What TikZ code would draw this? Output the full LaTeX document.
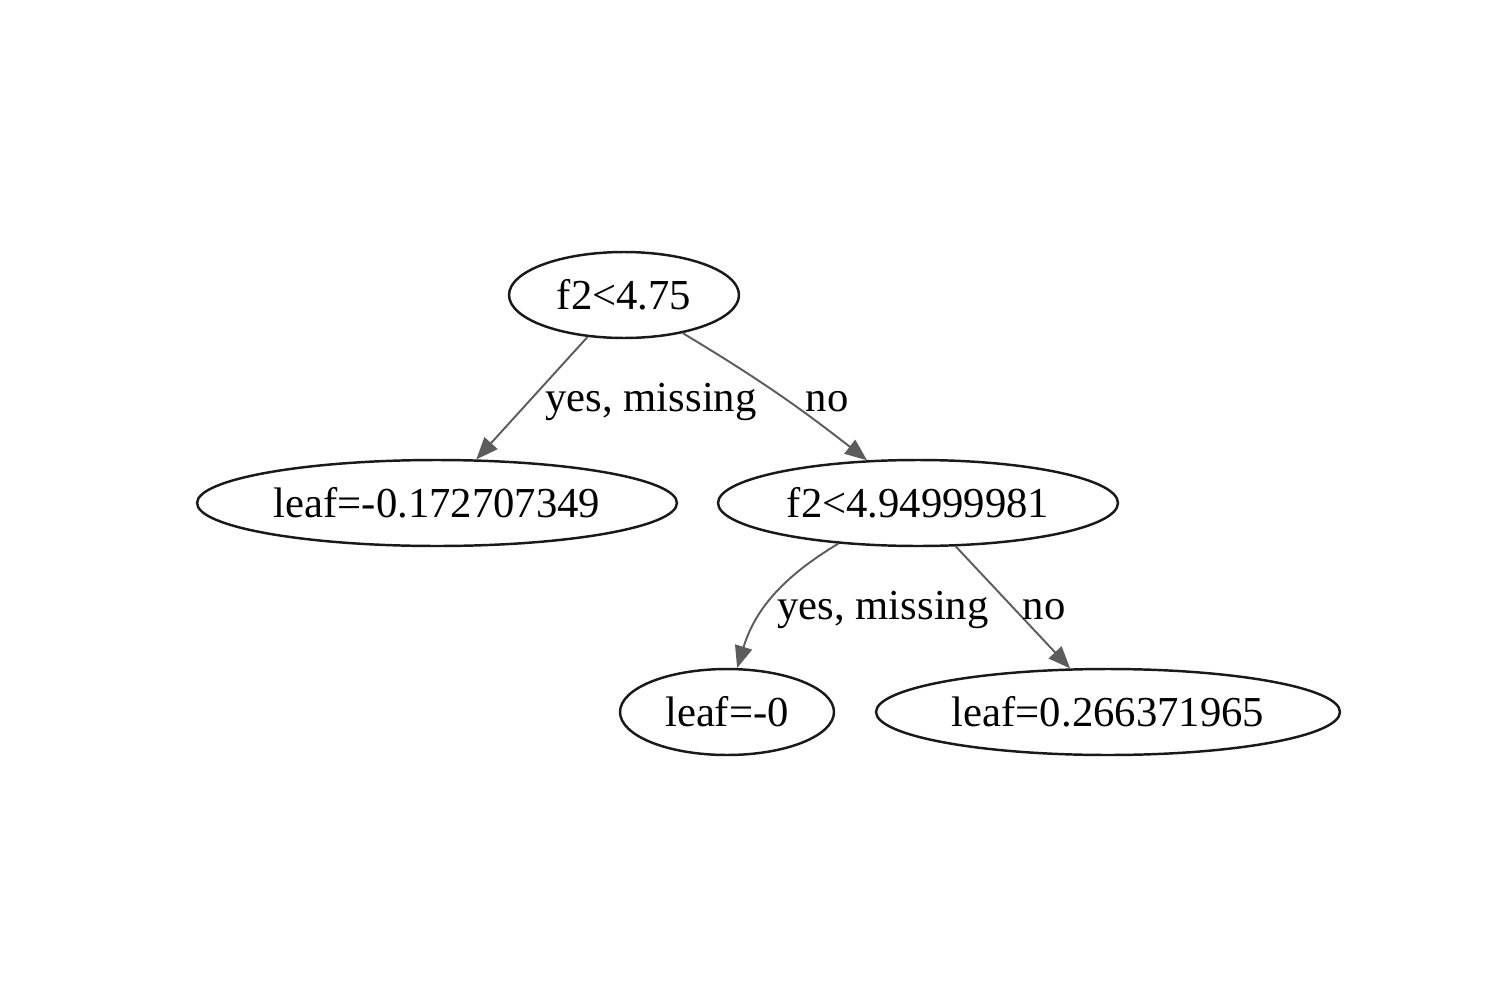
\documentclass[tikz,border=0pt]{standalone}
\usepackage{fontspec}
\setmainfont{Liberation Serif}
\usetikzlibrary{shapes.geometric,arrows.meta}
\definecolor{edgecol}{RGB}{92,92,92}
\definecolor{nodecol}{RGB}{25,25,25}
\tikzset{
  treenode/.style={ellipse, draw=nodecol, line width=1.4pt, inner sep=0pt, minimum height=1.72cm,
    font=\fontsize{24.3pt}{29pt}\selectfont},
  edge/.style={draw=edgecol, line width=1.1pt,
    -{Triangle[length=0.44cm,width=0.35cm]}, fill=none},
  elabel/.style={anchor=base, inner sep=0pt, font=\fontsize{24.3pt}{29pt}\selectfont}
}
\begin{document}
\begin{tikzpicture}[x=0.02cm,y=-0.02cm]
\useasboundingbox (0,0) rectangle (1500,1000);
\node[treenode, minimum width=4.6cm] (root) at (624,295) {f2<4.75};
\node[treenode, minimum width=9.6cm] (leaf1) at (437,503) {leaf=-0.172707349};
\node[treenode, minimum width=8cm] (n2) at (918,503) {f2<4.94999981};
\node[treenode, minimum width=4.28cm] (leaf2) at (727,712) {leaf=-0};
\node[treenode, minimum width=9.28cm] (leaf3) at (1108,712) {leaf=0.266371965};

\draw[edge] (root.229) -- (leaf1.48.6);
\draw[edge] (root.327) to[out=-31,in=142] (n2.140.6);
\draw[edge] (n2.207) to[out=211,in=73] (leaf2.77);
\draw[edge] (n2.311.5) -- (leaf3.131.4);

\node[elabel] (l1) at (651,411) {yes, missing};
\node[elabel] (l2) at (827,411) {no};
\node[elabel] (l3) at (883,619) {yes, missing};
\node[elabel] (l4) at (1044,619) {no};
\end{tikzpicture}
\end{document}
